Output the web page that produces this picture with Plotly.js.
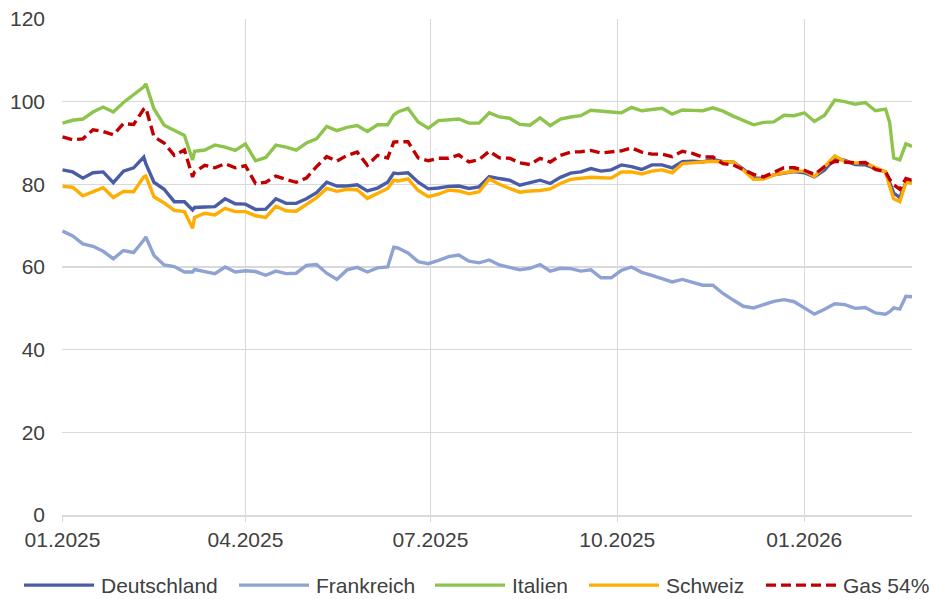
<!DOCTYPE html>
<html>
<head>
<meta charset="utf-8">
<script src="https://cdn.plot.ly/plotly-3.0.1.min.js"></script>
<style>html,body{margin:0;padding:0;background:#fff;}#chart{width:930px;height:599px;}</style>
</head>
<body>
<div id="chart"></div>
<script>
const dates = ["2025-01-01","2025-01-06","2025-01-11","2025-01-16","2025-01-21","2025-01-26","2025-01-31","2025-02-05","2025-02-10","2025-02-11",
"2025-02-15","2025-02-20","2025-02-25","2025-03-02","2025-03-06","2025-03-07","2025-03-12","2025-03-17","2025-03-22","2025-03-27",
"2025-04-01","2025-04-06","2025-04-11","2025-04-16","2025-04-21","2025-04-26","2025-05-01","2025-05-06","2025-05-11","2025-05-16",
"2025-05-21","2025-05-26","2025-05-31","2025-06-05","2025-06-10","2025-06-13","2025-06-15","2025-06-20","2025-06-25","2025-06-30",
"2025-07-05","2025-07-10","2025-07-15","2025-07-20","2025-07-25","2025-07-30","2025-08-04","2025-08-09","2025-08-14","2025-08-19",
"2025-08-24","2025-08-29","2025-09-03","2025-09-08","2025-09-13","2025-09-18","2025-09-23","2025-09-28","2025-10-03","2025-10-08",
"2025-10-13","2025-10-18","2025-10-23","2025-10-28","2025-11-02","2025-11-07","2025-11-12","2025-11-17","2025-11-22","2025-11-27",
"2025-12-02","2025-12-07","2025-12-12","2025-12-17","2025-12-22","2025-12-27","2026-01-01","2026-01-06","2026-01-11","2026-01-16",
"2026-01-21","2026-01-26","2026-01-31","2026-02-05","2026-02-10","2026-02-12","2026-02-14","2026-02-17","2026-02-20","2026-02-23"];

const deutschland = [83.5,83,81.5,82.8,83,80.4,83.2,84,86.6,85,
80.5,78.8,75.8,75.8,73.8,74.4,74.5,74.6,76.5,75.3,
75.2,73.9,74,76.5,75.4,75.4,76.5,78,80.5,79.6,
79.6,79.9,78.4,79.1,80.5,82.7,82.6,82.8,80.5,78.9,
79.1,79.5,79.6,79,79.4,81.9,81.4,81,79.8,80.5,
81,80.2,81.7,82.7,83,83.8,83.2,83.5,84.7,84.3,
83.6,84.7,84.7,84,85.5,85.6,85.4,86,85.5,85.4,
83.7,81.5,81.5,82.3,82.8,83.1,82.8,81.8,83.5,86.3,
85.8,84.8,84.7,83.8,83,80.5,77.9,76.8,80.5,80.7];

const frankreich = [68.7,67.5,65.6,65,63.8,62,64,63.5,66.5,67.3,
62.8,60.5,60.1,58.8,58.8,59.4,58.9,58.4,60,58.8,
59.1,58.9,58,59,58.4,58.5,60.4,60.6,58.5,57,
59.3,59.9,58.8,59.8,60,64.8,64.6,63.4,61.3,60.8,
61.6,62.5,62.9,61.4,61,61.7,60.5,60,59.3,59.7,
60.6,59,59.7,59.6,59,59.3,57.4,57.4,59.2,60,
58.7,58,57.3,56.4,57,56.3,55.6,55.6,53.6,52,
50.5,50.1,51,51.7,52.1,51.6,50.1,48.6,49.8,51.1,
50.9,50,50.2,48.9,48.6,49.2,50.1,49.8,52.9,52.8];

const italien = [94.8,95.5,95.8,97.5,98.7,97.5,99.8,101.8,103.6,104.3,
98.3,94.3,93,91.8,85.9,88,88.3,89.5,89,88.2,
89.8,85.7,86.5,89.5,89,88.3,90,91,94,93,
93.8,94.2,92.8,94.4,94.4,96.8,97.5,98.4,95.1,93.6,
95.4,95.5,95.8,94.8,94.8,97.3,96.3,96,94.5,94.3,
96.1,94.2,95.8,96.3,96.6,97.9,97.6,97.5,97.3,98.6,
97.8,98.1,98.4,97,98,97.9,97.8,98.5,97.7,96.5,
95.4,94.4,95,95.1,96.7,96.6,97.3,95.2,96.7,100.4,
100,99.4,99.8,97.8,98.2,95,86.4,85.9,89.8,89.2];

const schweiz = [79.5,79.3,77.2,78.2,79.2,76.8,78.3,78.2,81.8,82,
77,75.5,73.7,73.4,69.4,72,73,72.6,74.2,73.4,
73.4,72.4,72,74.7,73.6,73.5,75.2,76.8,79,78.3,
78.8,78.7,76.6,77.8,79,81,80.8,81.3,78.5,77,
77.6,78.6,78.4,77.7,78.2,81.3,80,79,78.1,78.4,
78.5,78.9,80.2,81.2,81.5,81.7,81.6,81.5,83,83,
82.5,83.2,83.5,82.8,85,85.2,85.4,85.6,85.4,85.4,
83.4,81.2,81.3,82.3,82.8,83.2,83.2,81.9,84.3,86.9,
85.5,85.2,85.2,84.2,83,79.5,76.5,75.8,80.5,80.3];

const gas54 = [91.5,90.8,91,93.2,92.8,92,94.7,94.5,98.2,98.5,
91.5,90,87,88.3,81.8,83,84.6,84,85,84,
84.5,80.2,80.5,82,81.2,80.5,81.5,84.3,86.7,85.6,
87,87.8,84.6,87,86.4,90.2,90.3,90.3,86.4,85.7,
86.3,86.3,87.1,85.4,86,88,86.4,86.3,85.2,84.8,
86.3,85.4,87,87.8,87.9,88.2,87.6,87.8,88.1,88.8,
87.8,87.3,87.3,86.7,88,87.5,86.6,86.6,85,84.7,
83.6,82.4,81.8,82.8,84,84,83.4,82.4,84.3,85.6,
85.3,85.2,85.3,83.6,83,81.2,79.9,78.8,81.4,81];

const seriesNames = ["Deutschland","Frankreich","Italien","Schweiz","Gas 54%"];
const tickVals = ["2025-01-01","2025-04-01","2025-07-01","2025-10-01","2026-01-01"];
const tickText = ["01.2025","04.2025","07.2025","10.2025","01.2026"];

const seriesData = [deutschland, frankreich, italien, schweiz, gas54];
const colors = ["#4A5CA6","#8FA2D4","#8DC44C","#FFAD00","#C00000"];
const dashes = ["solid","solid","solid","solid","10px,5px"];
const legendIds = ["legend","legend2","legend3","legend4","legend5"];
const legendLeftPx = [19, 234, 430, 584, 761];

const traces = seriesData.map((vals, i) => ({
  type: "scatter",
  mode: "lines",
  name: seriesNames[i],
  x: dates,
  y: vals,
  legend: legendIds[i],
  line: {color: colors[i], width: 3.4, dash: dashes[i]},
  hoverinfo: "skip"
}));

const grid = "#d9d9d9";
const layout = {
  width: 930, height: 599,
  margin: {l: 62, r: 18, t: 19, b: 84},
  paper_bgcolor: "#ffffff", plot_bgcolor: "#ffffff",
  font: {family: "'Liberation Sans', Arial, sans-serif", size: 21, color: "#404040"},
  xaxis: {
    type: "date",
    range: ["2024-12-31 18:00", "2026-02-23"],
    tickmode: "array", tickvals: tickVals, ticktext: tickText,
    showgrid: true, gridcolor: grid, gridwidth: 1.5,
    ticks: "outside", ticklen: 5, tickwidth: 1.5, tickcolor: grid,
    showline: true, linecolor: grid, linewidth: 1.5,
    zeroline: false, ticklabelstandoff: 0
  },
  yaxis: {
    range: [0, 120], tick0: 0, dtick: 20,
    showgrid: true, gridcolor: grid, gridwidth: 1.5,
    zeroline: false, showline: false, ticks: "",
    ticklabelstandoff: 16
  },
  showlegend: true
};
legendIds.forEach((id, i) => {
  layout[id] = {
    orientation: "h", xref: "container", yref: "container",
    x: legendLeftPx[i] / 930, xanchor: "left", y: 0, yanchor: "bottom",
    itemwidth: 72, font: {size: 21, color: "#404040"},
    bgcolor: "rgba(0,0,0,0)"
  };
});

Plotly.newPlot("chart", traces, layout, {staticPlot: true, displayModeBar: false}).then(gd => {
  gd.querySelectorAll(".infolayer .js-line").forEach(p => {
    p.setAttribute("d", "M5,0h70");
  });
  gd.querySelectorAll(".infolayer > g").forEach(g => {
    const cls = g.getAttribute("class") || "";
    if (!/^legend\d*$/.test(cls)) return;
    const t = g.getAttribute("transform") || "";
    const m = t.match(/translate\(\s*([-\d.]+)[ ,]+([-\d.]+)\s*\)/);
    if (m) g.setAttribute("transform", "translate(" + m[1] + "," + (parseFloat(m[2]) + 7) + ")");
  });
});
</script>
</body>
</html>
